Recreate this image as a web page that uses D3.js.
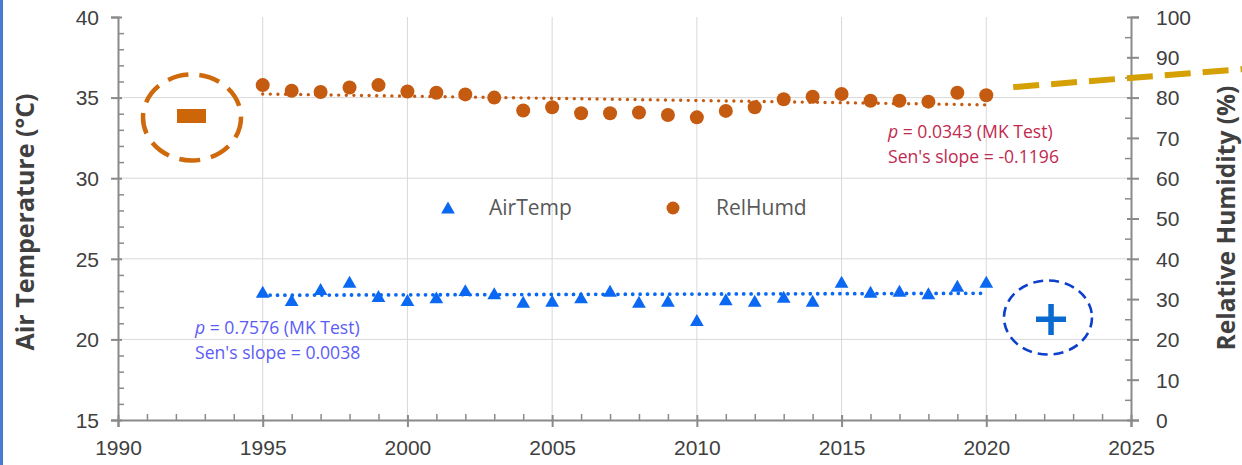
<!DOCTYPE html>
<html><head><meta charset="utf-8">
<script src="https://cdn.jsdelivr.net/npm/d3@7"></script>
<style>
body{margin:0;background:#fff;}
svg{display:block;font-family:"Open Sans","Noto Sans",sans-serif;}
</style>
</head><body>
<svg id="chart" width="1242" height="465"></svg>
<script>
// ---------- data ----------
const years = [1995,1996,1997,1998,1999,2000,2001,2002,2003,2004,2005,2006,2007,2008,2009,2010,2011,2012,2013,2014,2015,2016,2017,2018,2019,2020];
const airTemp = [22.96,22.44,23.13,23.58,22.69,22.44,22.61,23.06,22.86,22.34,22.40,22.61,23.02,22.34,22.40,21.20,22.49,22.40,22.65,22.40,23.58,22.96,23.02,22.86,23.33,23.58];
const relHumd = [83.1,81.7,81.4,82.5,83.1,81.5,81.2,80.8,80.0,76.8,77.6,76.1,76.1,76.3,75.7,75.1,76.7,77.6,79.6,80.2,80.9,79.2,79.2,79.0,81.2,80.6];
const trendYears = [1995, 2020];
const airTempTrend = [22.74, 22.86];
const relHumdTrend = [80.9, 78.2];
const xTicks = [1990,1995,2000,2005,2010,2015,2020,2025];
const leftTicks = [15,20,25,30,35,40];
const rightTicks = [0,10,20,30,40,50,60,70,80,90,100];
const seriesNames = ["AirTemp","RelHumd"];
const rhNote = ["= 0.0343 (MK Test)", "Sen's slope = -0.1196"];
const atNote = ["= 0.7576 (MK Test)", "Sen's slope = 0.0038"];
const goldYears = [2020.93, 2028.9];
const goldRH = [82.6, 87.1];

// ---------- layout ----------
const svg = d3.select("#chart");
const X0 = 118, X1 = 1131, Y0 = 420, Y1 = 17;
const x = d3.scaleLinear().domain([1990, 2025]).range([X0, X1]);
const yL = d3.scaleLinear().domain([15, 40]).range([Y0, Y1]);
const yR = d3.scaleLinear().domain([0, 100]).range([Y0, Y1]);

const axisColor = "#8a8a8a", gridColor = "#d9d9d9", labelColor = "#404040";
const blue = "#0a68f2", orange = "#c55a11";

// left slide border strip
svg.append("rect").attr("x",0).attr("y",0).attr("width",3).attr("height",465).attr("fill","#4a7bd0");

// gridlines
const grid = svg.append("g");
grid.selectAll("line.h").data(leftTicks.filter(d => d > 15 && d < 40)).join("line")
  .attr("x1", X0).attr("x2", X1).attr("y1", d => yL(d)).attr("y2", d => yL(d))
  .attr("stroke", gridColor).attr("stroke-width", 1);
grid.selectAll("line.v").data(xTicks.filter(d => d > 1990 && d < 2025)).join("line")
  .attr("x1", d => x(d)).attr("x2", d => x(d)).attr("y1", Y1).attr("y2", Y0)
  .attr("stroke", gridColor).attr("stroke-width", 1);

function styleAxis(g){
  g.select(".domain").attr("stroke", axisColor).attr("stroke-width", 2);
  g.selectAll(".tick line").attr("stroke", axisColor).attr("stroke-width", 2);
  g.selectAll(".tick text").attr("fill", labelColor).attr("font-size", 21);
}

// left axis (major crossing ticks + minor inside ticks)
const gL = svg.append("g").attr("transform", `translate(${X0},0)`)
  .call(d3.axisLeft(yL).tickValues(leftTicks).tickSize(7).tickPadding(12).tickFormat(d3.format("d")));
styleAxis(gL);
gL.selectAll(".tick line").attr("x1", 4);
gL.selectAll(".tick text").attr("dy", "0.35em");
const gLm = svg.append("g").attr("transform", `translate(${X0},0)`)
  .call(d3.axisRight(yL).tickValues(d3.range(15, 40, 1).filter(d => d % 5 !== 0)).tickSize(6).tickFormat(""));
gLm.select(".domain").remove();
gLm.selectAll(".tick line").attr("stroke", axisColor).attr("stroke-width", 1.5);

// right axis
const gR = svg.append("g").attr("transform", `translate(${X1},0)`)
  .call(d3.axisRight(yR).tickValues(rightTicks).tickSize(8).tickPadding(17).tickFormat(d3.format("d")));
styleAxis(gR);
gR.selectAll(".tick line").attr("x1", -4);
gR.selectAll(".tick text").attr("dy", "0.35em");
const gRm = svg.append("g").attr("transform", `translate(${X1},0)`)
  .call(d3.axisLeft(yR).tickValues(d3.range(5, 100, 10)).tickSize(6).tickFormat(""));
gRm.select(".domain").remove();
gRm.selectAll(".tick line").attr("stroke", axisColor).attr("stroke-width", 1.5);

// bottom axis
const gB = svg.append("g").attr("transform", `translate(0,${Y0})`)
  .call(d3.axisBottom(x).tickValues(xTicks).tickSize(7).tickPadding(13).tickFormat(d3.format("d")));
styleAxis(gB);
gB.selectAll(".tick line").attr("y1", -5);
const gBm = svg.append("g").attr("transform", `translate(0,${Y0})`)
  .call(d3.axisTop(x).tickValues(d3.range(1991, 2025, 1).filter(d => d % 5 !== 0)).tickSize(6).tickFormat(""));
gBm.select(".domain").remove();
gBm.selectAll(".tick line").attr("stroke", axisColor).attr("stroke-width", 1.5);

// axis titles
svg.append("text").attr("transform", `translate(34,222) rotate(-90)`)
  .attr("text-anchor","middle").attr("font-size",25).attr("font-weight","bold").attr("fill",labelColor)
  .text("Air Temperature (°C)");
svg.append("text").attr("transform", `translate(1235,218) rotate(-90)`)
  .attr("text-anchor","middle").attr("font-size",24.5).attr("font-weight","bold").attr("fill",labelColor)
  .text("Relative Humidity (%)");

// trend lines
const line = (yScale, vals) => d3.line().x((d,i) => x(trendYears[i])).y(d => yScale(d))(vals);
svg.append("path").attr("d", line(yR, relHumdTrend)).attr("fill","none")
  .attr("stroke", orange).attr("stroke-width", 3.4).attr("stroke-linecap","round").attr("stroke-dasharray","0 7.6");
svg.append("path").attr("d", line(yL, airTempTrend)).attr("fill","none")
  .attr("stroke", blue).attr("stroke-width", 3.8).attr("stroke-linecap","round").attr("stroke-dasharray","0 7.4");

// markers
const tri = d3.symbol().type(d3.symbolTriangle).size(82);
svg.append("g").selectAll("path").data(years).join("path")
  .attr("d", tri).attr("fill", blue)
  .attr("transform", (d,i) => `translate(${x(d)},${yL(airTemp[i]) + 2})`);
svg.append("g").selectAll("circle").data(years).join("circle")
  .attr("cx", d => x(d)).attr("cy", (d,i) => yR(relHumd[i])).attr("r", 7).attr("fill", orange);

// legend
svg.append("path").attr("d", tri).attr("fill", blue).attr("transform", "translate(448,209.5)");
svg.append("text").attr("x", 489).attr("y", 215).attr("font-size", 21).attr("fill", "#595959").text(seriesNames[0]);
svg.append("circle").attr("cx", 673).attr("cy", 208).attr("r", 6.5).attr("fill", orange);
svg.append("text").attr("x", 716).attr("y", 215).attr("font-size", 21).attr("fill", "#595959").text(seriesNames[1]);

// annotations
function note(x0, y0, lines, color){
  const t = svg.append("text").attr("font-size", 17.6).attr("fill", color);
  const l1 = t.append("tspan").attr("x", x0).attr("y", y0);
  l1.append("tspan").attr("font-style","italic").text("p");
  l1.append("tspan").text(" " + lines[0]);
  t.append("tspan").attr("x", x0).attr("y", y0 + 25).text(lines[1]);
}
note(888, 138, rhNote, "#bf2a50");
note(195, 334, atNote, "#5b5cf6");

// orange "minus" ellipse
svg.append("ellipse").attr("cx", 192).attr("cy", 117.5).attr("rx", 49).attr("ry", 43)
  .attr("fill","none").attr("stroke","#cf6a0c").attr("stroke-width",4.5).attr("stroke-dasharray","21 11");
svg.append("rect").attr("x", 177).attr("y", 109).attr("width", 29).attr("height", 14).attr("fill","#cc6608");

// blue "plus" ellipse
svg.append("ellipse").attr("cx", 1048).attr("cy", 317.5).attr("rx", 44).attr("ry", 37)
  .attr("fill","none").attr("stroke","#0d3fcc").attr("stroke-width",2.6).attr("stroke-dasharray","10 6");
svg.append("rect").attr("x", 1036).attr("y", 316.5).attr("width", 30).attr("height", 5.5).attr("fill","#0b6ad0");
svg.append("rect").attr("x", 1048.3).attr("y", 304).attr("width", 5.5).attr("height", 31).attr("fill","#0b6ad0");

// gold dashed extension
svg.append("path").attr("d", d3.line().x((d,i) => x(goldYears[i])).y(d => yR(d))(goldRH))
  .attr("fill","none").attr("stroke","#d4a004").attr("stroke-width",6).attr("stroke-dasharray","26 12");
</script>
</body></html>
